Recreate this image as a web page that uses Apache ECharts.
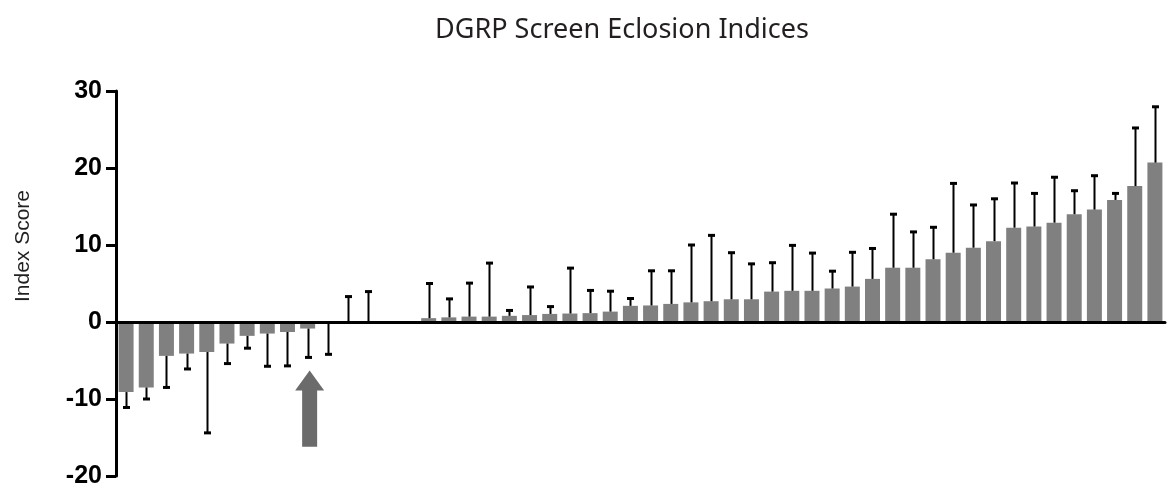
<!DOCTYPE html>
<html>
<head>
<meta charset="utf-8">
<script src="https://cdn.jsdelivr.net/npm/echarts@6/dist/echarts.min.js"></script>
<style>
  html, body { margin: 0; padding: 0; background: #fff; }
  #chart { width: 1168px; height: 496px; }
</style>
</head>
<body>
<div id="chart"></div>
<script>
// DGRP lines, ordered by mean eclosion index
const lines = Array.from({ length: 52 }, (_, i) => 'RAL-' + (i + 1));

// Mean index score per line (null = no measurement)
const meanScore = [
  -9.1, -8.5, -4.4, -4.1, -3.9, -2.8, -1.8, -1.5, -1.3, -0.85,
  -0.1, 0.05, 0.05, null, null,
  0.5, 0.6, 0.7, 0.7, 0.8, 0.9, 1.05, 1.1, 1.15, 1.35,
  2.1, 2.15, 2.35, 2.55, 2.7, 2.95, 2.95, 3.95, 4.05, 4.05,
  4.35, 4.6, 5.6, 7.05, 7.05, 8.15, 9.0, 9.65, 10.5, 12.25,
  12.4, 12.9, 14.0, 14.6, 15.85, 17.65, 20.7
];

// Standard deviation per line (drawn away from zero)
const sdScore = [
  2.0, 1.5, 4.1, 2.0, 10.5, 2.6, 1.6, 4.25, 4.4, 3.75,
  4.1, 3.25, 3.9, null, null,
  4.5, 2.4, 4.35, 6.95, 0.7, 3.65, 0.95, 5.9, 2.95, 2.65,
  0.95, 4.5, 4.3, 7.45, 8.55, 6.05, 4.6, 3.75, 5.9, 4.9,
  2.25, 4.45, 3.95, 6.95, 4.65, 4.15, 9.0, 5.55, 5.5, 5.8,
  4.3, 5.9, 3.05, 4.4, 0.85, 7.55, 7.25
];

// Highlighted line: arrow points up at it, from tail to tip (index score units)
const markedLine = 9;
const arrowTip = -6.3;
const arrowTail = -16.2;

const yTicks = { min: -20, max: 30, interval: 10 };

const errData = meanScore.map((m, i) => (m === null ? null : [i, m, sdScore[i]]))
  .filter(d => d !== null);

const chart = echarts.init(document.getElementById('chart'));

chart.setOption({
  animation: false,
  title: {
    text: 'DGRP Screen Eclosion Indices',
    left: 617,
    textAlign: 'center',
    top: 12,
    textStyle: {
      fontFamily: 'Noto Sans',
      fontWeight: 'normal',
      fontSize: 27,
      color: '#231f20'
    }
  },
  grid: { left: 116, right: 3, top: 91, bottom: 20, containLabel: false },
  xAxis: {
    type: 'category',
    data: lines,
    z: 5,
    axisLine: { onZero: true, lineStyle: { color: '#000', width: 3 } },
    axisTick: { show: false },
    axisLabel: { show: false },
    splitLine: { show: false }
  },
  yAxis: {
    type: 'value',
    min: yTicks.min,
    max: yTicks.max,
    interval: yTicks.interval,
    axisLine: { show: true, lineStyle: { color: '#000', width: 3 } },
    axisTick: { show: true, length: 10, lineStyle: { color: '#000', width: 3 } },
    axisLabel: {
      margin: 14,
      fontFamily: 'Liberation Sans',
      fontWeight: 'bold',
      fontSize: 25,
      color: '#000'
    },
    splitLine: { show: false }
  },
  series: [
    {
      type: 'bar',
      data: meanScore,
      barWidth: 15,
      itemStyle: { color: '#808080' }
    },
    {
      type: 'custom',
      data: errData,
      z: 4,
      encode: { x: 0, y: 1 },
      renderItem: function (params, api) {
        const i = api.value(0);
        const m = api.value(1);
        const sd = api.value(2);
        const end = m < 0 ? m - sd : m + sd;
        const p0 = api.coord([i, m]);
        const p1 = api.coord([i, end]);
        const x = Math.round(p0[0]) + 0.5;
        const capHalf = 3.5;
        return {
          type: 'group',
          children: [
            {
              type: 'line',
              shape: { x1: x, y1: p0[1], x2: x, y2: p1[1] },
              style: { stroke: '#000', lineWidth: 2 }
            },
            {
              type: 'line',
              shape: { x1: x - capHalf, y1: p1[1], x2: x + capHalf, y2: p1[1] },
              style: { stroke: '#000', lineWidth: 3 }
            }
          ]
        };
      }
    }
  ]
});

// Axis title and the arrow marking the highlighted line
const tip = chart.convertToPixel({ seriesIndex: 0 }, [markedLine, arrowTip]);
const tail = chart.convertToPixel({ seriesIndex: 0 }, [markedLine, arrowTail]);
const cx = tip[0] + 2;
const headW = 14.5, shaftW = 7.5, headH = 20;

chart.setOption({
  graphic: [
    {
      type: 'text',
      x: 23,
      y: 246,
      rotation: Math.PI / 2,
      style: {
        text: 'Index Score',
        fontFamily: 'Liberation Sans',
        fontSize: 21,
        fill: '#231f20',
        align: 'center',
        verticalAlign: 'middle'
      }
    },
    {
      type: 'polygon',
      z: 10,
      shape: {
        points: [
          [cx, tip[1]],
          [cx + headW, tip[1] + headH],
          [cx + shaftW, tip[1] + headH],
          [cx + shaftW, tail[1]],
          [cx - shaftW, tail[1]],
          [cx - shaftW, tip[1] + headH],
          [cx - headW, tip[1] + headH]
        ]
      },
      style: { fill: '#6b6b6b' }
    }
  ]
});
</script>
</body>
</html>
